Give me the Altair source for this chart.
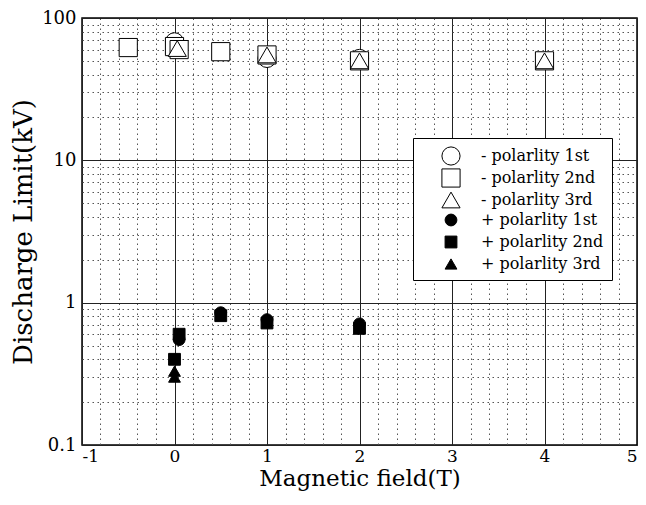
import altair as alt
import pandas as pd

# ---- data ----
series_names = ["- polarlity 1st", "- polarlity 2nd", "- polarlity 3rd",
                "+ polarlity 1st", "+ polarlity 2nd", "+ polarlity 3rd"]

neg1_x = [0.0, 1.0, 2.0]
neg1_y = [68, 52, 52]
neg2_x = [-0.5, 0.0, 0.05, 0.5, 1.0, 2.0, 4.0]
neg2_y = [62, 63, 60, 58, 55, 50, 50]
neg3_x = [0.03, 1.0, 2.0, 4.0]
neg3_y = [61, 55, 50, 50]
pos1_x = [0.05, 0.5, 1.0, 2.0]
pos1_y = [0.55, 0.85, 0.76, 0.71]
pos2_x = [0.05, 0.0, 0.5, 1.0, 2.0]
pos2_y = [0.60, 0.40, 0.81, 0.72, 0.66]
pos3_x = [0.0, 0.0]
pos3_y = [0.33, 0.30]

x_major = [-1, 0, 1, 2, 3, 4, 5]
x_minor = [round(-1 + 0.2 * i, 1) for i in range(31) if (i % 5) != 0]
y_major = [0.1, 1, 10, 100]
y_minor = [m * d for d in (0.1, 1, 10) for m in range(2, 10)]

shape_range = ["circle", "square", "triangle-up", "circle", "square", "triangle-up"]
fill_range = ["white", "white", "white", "black", "black", "black"]
stroke_range = ["black"] * 6
size_range = [330, 330, 330, 140, 140, 140]

rows = []
for name, xs, ys in zip(series_names,
                        [neg1_x, neg2_x, neg3_x, pos1_x, pos2_x, pos3_x],
                        [neg1_y, neg2_y, neg3_y, pos1_y, pos2_y, pos3_y]):
    for xv, yv in zip(xs, ys):
        rows.append({"field": xv, "limit": yv, "series": name})
df = pd.DataFrame(rows)

FONT = "DejaVu Serif"
xscale = alt.Scale(domain=[-1, 5], nice=False, zero=False)
yscale = alt.Scale(type="log", domain=[0.1, 100], nice=False)

# minor grid layer (invisible points, dotted grid)
minor = alt.Chart(df).mark_point(opacity=0).encode(
    x=alt.X("field:Q", scale=xscale,
            axis=alt.Axis(orient="bottom", values=x_minor, labels=False, ticks=False,
                          domain=False, title=None, grid=True, gridColor="#555",
                          gridDash=[1.5, 3.5], gridWidth=1)),
    y=alt.Y("limit:Q", scale=yscale,
            axis=alt.Axis(orient="left", values=y_minor, labels=False, ticks=False,
                          domain=False, title=None, grid=True, gridColor="#555",
                          gridDash=[1.5, 3.5], gridWidth=1)),
)

legend = alt.Legend(title=None, orient="none", legendX=331, legendY=120,
                    fillColor="white", strokeColor="black",
                    padding=8, symbolOffset=20, labelOffset=20,
                    rowPadding=-2, gridAlign="all", labelFont=FONT, labelFontSize=16,
                    labelColor="black", symbolStrokeColor="black",
                    symbolStrokeWidth=1, labelLimit=300)

points = alt.Chart(df).mark_point(opacity=1, strokeWidth=1).encode(
    x=alt.X("field:Q", scale=xscale,
            axis=alt.Axis(orient="bottom", values=x_major, title="Magnetic field(T)",
                          labelExpr="datum.value < 0 ? '-' + abs(datum.value) : '' + datum.value",
                          grid=True, gridColor="#222", gridWidth=1, domain=False,
                          ticks=False, labelFont=FONT, labelFontSize=17,
                          labelColor="black", labelPadding=3,
                          titleFont=FONT, titleFontSize=23, titleFontWeight="normal",
                          titleColor="black", titleY=40, titleBaseline="alphabetic")),
    y=alt.Y("limit:Q", scale=yscale,
            axis=alt.Axis(orient="left", values=y_major, title="Discharge Limit(kV)",
                          format="~g", grid=True, gridColor="#222", gridWidth=1,
                          domain=False, ticks=False, labelFont=FONT, labelFontSize=18,
                          labelColor="black", labelPadding=6,
                          titleFont=FONT, titleFontSize=26, titleFontWeight="normal",
                          titleColor="black", titlePadding=5)),
    shape=alt.Shape("series:N", scale=alt.Scale(domain=series_names, range=shape_range),
                    legend=legend),
    fill=alt.Fill("series:N", scale=alt.Scale(domain=series_names, range=fill_range),
                  legend=legend),
    stroke=alt.Stroke("series:N", scale=alt.Scale(domain=series_names, range=stroke_range),
                      legend=legend),
    size=alt.Size("series:N",
                  scale=alt.Scale(type="ordinal", domain=series_names, range=size_range),
                  legend=legend),
)

chart = alt.layer(minor, points).resolve_axis(
    x="independent", y="independent"
).properties(
    width=555, height=427,
    padding={"left": 74, "top": 10, "right": 1, "bottom": 47},
    autosize=alt.AutoSizeParams(type="none"),
    background="white",
).configure_view(stroke="black", strokeWidth=1.5)

chart.save("out.html", embed_options={"renderer": "svg", "actions": False})
